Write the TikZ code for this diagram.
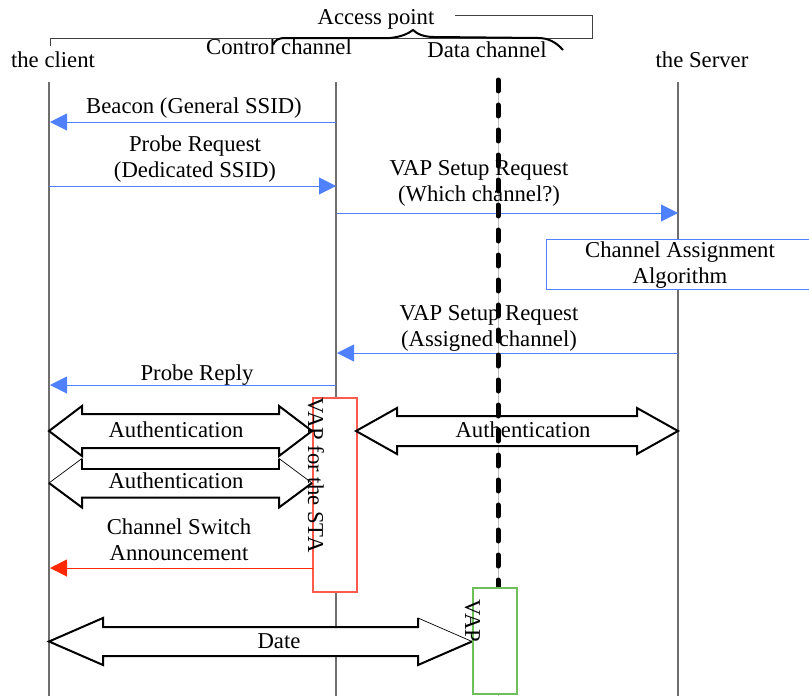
\documentclass[tikz,border=0pt]{standalone}
\usepackage{fontspec}
\setmainfont{Liberation Serif}
\usetikzlibrary{arrows.meta}
\definecolor{msgblue}{RGB}{79,129,255}
\definecolor{msgred}{RGB}{255,40,0}
\definecolor{vapred}{RGB}{255,90,75}
\definecolor{vapgreen}{RGB}{110,190,90}
\definecolor{lifegray}{RGB}{110,110,110}
\definecolor{datagray}{RGB}{190,190,190}
\tikzset{
  lbl/.style={font=\fontsize{22.7}{26}\selectfont, inner sep=0pt, align=center, text=black},
  lifeline/.style={draw=lifegray, line width=1.2pt},
  msg/.style={draw=msgblue, line width=1pt, -{Triangle[length=17pt,width=17pt]}},
  redmsg/.style={draw=msgred, line width=1pt, -{Triangle[length=17pt,width=17pt]}},
  databar/.style={draw=black, line width=5pt, line cap=round, dash pattern=on 11pt off 14pt},
  bigarrow/.style={fill=white, draw=black, line width=2pt, line join=miter},
  thinarrow/.style={fill=white, draw=black, line width=0.7pt, line join=miter},
  thickedge/.style={draw=black, line width=2pt, line join=miter},
  vapbox/.style={draw=#1, fill=white, line width=1.2pt, inner sep=0pt},
}
\newcommand{\dblshape}[7]{%
  \path[#1] ({#2},{#4}) -- ({#2+#7},{#4-#6}) -- ({#2+#7},{#4-#5}) -- ({#3-#7},{#4-#5})
   -- ({#3-#7},{#4-#6}) -- ({#3},{#4}) -- ({#3-#7},{#4+#6}) -- ({#3-#7},{#4+#5})
   -- ({#2+#7},{#4+#5}) -- ({#2+#7},{#4+#6}) -- cycle;}
\begin{document}
\begin{tikzpicture}[x=1pt,y=-1pt]
\useasboundingbox (0,0) rectangle (809,696);

% header labels
\node[lbl] (ap) at (376,19) {Access point};
\node[lbl] (ctlch) at (279,47) {Control channel};
\node[lbl] (datach) at (487,50) {Data channel};
\node[lbl] (client) at (53,60) {the client};
\node[lbl] (server) at (702,60) {the Server};

% access point connector and brace
\coordinate (apA) at (50,46);
\coordinate (apB) at (50,38);
\coordinate (apC) at (592,38);
\coordinate (apD) at (592,15);
\coordinate (apE) at (455,15);
\draw[line width=0.8pt, draw=black!75] (apA) -- (apB) -- (apC) -- (apD) -- (apE);
\draw[line width=2pt] (273,45) .. controls (275,40) and (278,38) .. (286,38) -- (390,38)
  .. controls (400,37) and (408,34) .. (413,30) .. controls (417,34) and (424,37) .. (434,37)
  -- (538,38) .. controls (548,38) and (556,42) .. (563,50);

% lifelines
\coordinate (cTop) at (49,82);   \coordinate (cBot) at (49,696);
\coordinate (kTop) at (336,82);  \coordinate (kBot) at (336,696);
\coordinate (sTop) at (678,82);  \coordinate (sBot) at (678,696);
\coordinate (dTop) at (498,80);  \coordinate (dBot) at (498,696);
\draw[lifeline] (cTop) -- (cBot);
\draw[lifeline] (kTop) -- (kBot);
\draw[lifeline] (sTop) -- (sBot);
\draw[draw=datagray, line width=0.8pt] (dTop) -- (dBot);

% messages
\coordinate (k1) at (336,122); \coordinate (c1) at (50,122);
\coordinate (c2) at (49,186);  \coordinate (k2) at (336,186);
\coordinate (k3) at (337,213); \coordinate (s3) at (678,213);
\coordinate (s4) at (678,353); \coordinate (k4) at (337,353);
\coordinate (k5) at (336,385); \coordinate (c5) at (50,385);
\coordinate (v6) at (313,568); \coordinate (c6) at (50,568);
\draw[msg] (k1) -- (c1);
\draw[msg] (c2) -- (k2);
\draw[msg] (k3) -- (s3);
\draw[msg] (s4) -- (k4);
\draw[msg] (k5) -- (c5);
\node[lbl] (beacon) at (194,108) {Beacon (General SSID)};
\node[lbl] (probe) at (195,159) {Probe Request\\(Dedicated SSID)};
\node[lbl] (vapreq1) at (479,183) {VAP Setup Request\\(Which channel?)};
\node[lbl] (vapreq2) at (489,328) {VAP Setup Request\\(Assigned channel)};
\node[lbl] (preply) at (197,375) {Probe Reply};

% channel assignment box
\node[draw=msgblue, fill=white, line width=1pt, minimum width=268pt, minimum height=50pt, inner sep=0pt] (cabox) at (680,264) {};
\node[lbl] (catext) at (680,265) {Channel Assignment\\Algorithm};

% VAP for the STA box
\node[vapbox=vapred, minimum width=44pt, minimum height=194pt] (vapsta) at (335,495) {};

% authentication arrows
\dblshape{bigarrow}{49}{312}{431}{17}{25}{33}
\dblshape{thinarrow}{49}{312}{483}{14.5}{24.5}{33}
\draw[thickedge] (82,458.5) -- (82,468.5) -- (279,468.5) -- (279,458.5);
\draw[thickedge] (312,483) -- (279,507.5) -- (279,497.5) -- (82,497.5) -- (82,507.5) -- (49,483);
\dblshape{bigarrow}{356}{678}{431}{15}{23}{41}
\node[lbl] (auth1) at (176,430) {Authentication};
\node[lbl] (auth2) at (176,481) {Authentication};
\node[lbl] (auth3) at (523,430) {Authentication};

% channel switch
\draw[redmsg] (v6) -- (c6);
\node[lbl] (chsw) at (179,540) {Channel Switch\\Announcement};

% date arrow
\dblshape{thinarrow}{49}{472}{641.5}{14.5}{23.5}{54}
\draw[thickedge] (418,618) -- (418,627) -- (103,627) -- (103,618) -- (49,641.5) -- (103,665) -- (103,656) -- (418,656) -- (418,665) -- (472,641.5);
\node[lbl] (date) at (279,641) {Date};

% data channel dashed bar
\draw[databar] (dTop) -- (dBot);

% VAP box (data channel)
\node[vapbox=vapgreen, minimum width=44pt, minimum height=106pt] (vapdata) at (495,641) {};

% rotated labels
\node[lbl, rotate=-90, anchor=base] (vapstatext) at (308,475) {VAP for the STA};
\node[lbl, rotate=-90, anchor=base] (vapdatatext) at (465,621) {VAP};
\end{tikzpicture}
\end{document}
